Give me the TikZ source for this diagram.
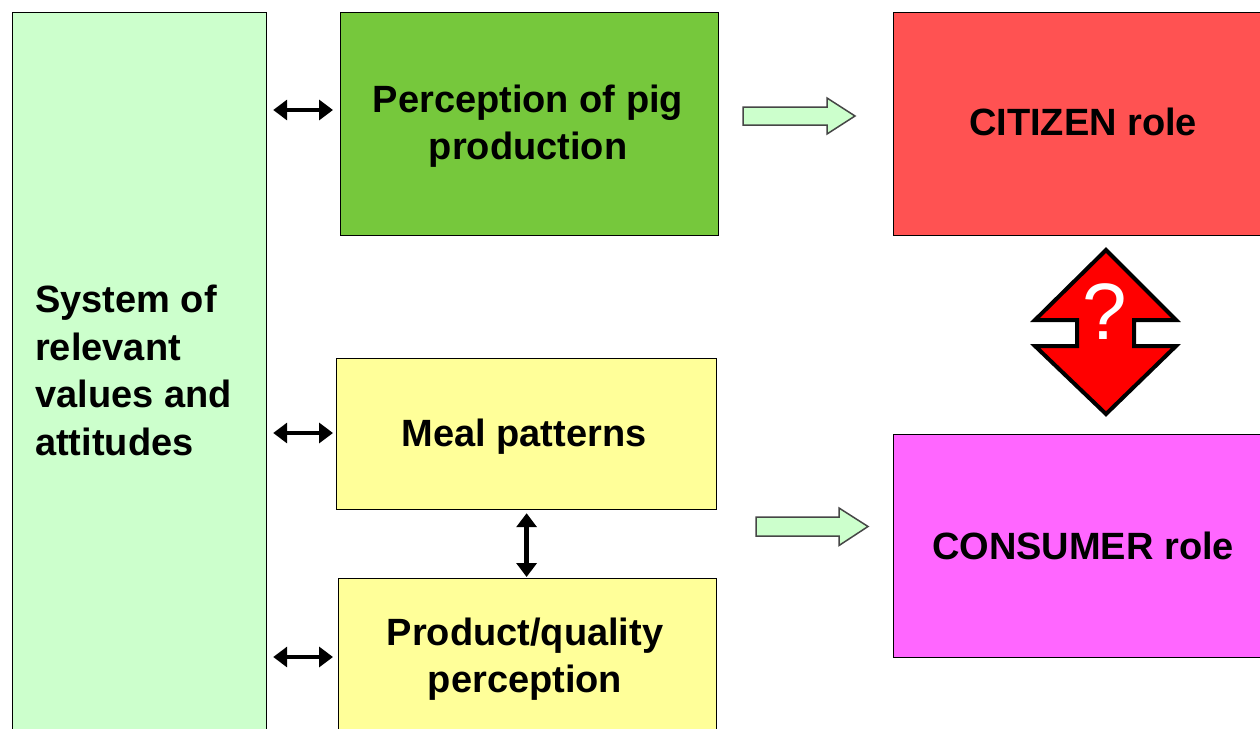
\documentclass[tikz,border=0pt]{standalone}
\usepackage{fontspec}
\setmainfont{Liberation Sans}
\usetikzlibrary{arrows.meta}
\definecolor{sysgreen}{RGB}{204,255,204}
\definecolor{ppgreen}{RGB}{118,200,60}
\definecolor{citred}{RGB}{255,82,82}
\definecolor{conpink}{RGB}{255,102,255}
\definecolor{paleyellow}{RGB}{255,255,153}
\definecolor{arrowedge}{RGB}{70,70,70}
\tikzset{
  box/.style={draw=black, line width=1.2pt, rectangle, inner sep=0pt, anchor=north west},
  lbl/.style={inner sep=0pt, align=center, font=\fontsize{38}{47}\selectfont\bfseries},
  dbl/.style={line width=4.5pt, {Triangle[length=14pt,width=20pt]}-{Triangle[length=14pt,width=20pt]}},
  blockarrow/.style={fill=sysgreen, draw=arrowedge, line width=1.5pt, line join=miter},
}
\begin{document}
\begin{tikzpicture}[x=1pt,y=-1pt]
\path[fill=white] (0,0) rectangle (1260,728);
\useasboundingbox (0,0) rectangle (1260,728);
\clip (0,0) rectangle (1260,728);

% boxes
\node[box, fill=sysgreen, minimum width=254pt, minimum height=760pt] (sys) at (12,12) {};
\node[lbl, anchor=west, align=left, font=\fontsize{38}{47.5}\selectfont\bfseries] (systxt) at (35,370.5)
  {System of\\relevant\\values and\\attitudes};

\node[box, fill=ppgreen, minimum width=378pt, minimum height=223pt] (pp) at (340,12) {};
\node[lbl] (pptxt) at (528,126) {Perception of pig\\production};

\node[box, fill=citred, minimum width=400pt, minimum height=223pt] (cit) at (893,12) {};
\node[lbl] (cittxt) at (1083,121.7) {CITIZEN role};

\node[box, fill=paleyellow, minimum width=380pt, minimum height=151pt] (meal) at (336,358) {};
\node[lbl] (mealtxt) at (524,436.5) {Meal patterns};

\node[box, fill=paleyellow, minimum width=378pt, minimum height=200pt] (prod) at (338,578) {};
\node[lbl] (prodtxt) at (525,659) {Product/quality\\perception};

\node[box, fill=conpink, minimum width=400pt, minimum height=223pt] (con) at (893,434) {};
\node[lbl] (contxt) at (1083,546) {CONSUMER role};

% double arrows
\draw[dbl, shorten <=6pt, shorten >=7pt] (sys.east |- 0,110) -- (pp.west |- 0,110);
\draw[dbl, shorten <=6pt, shorten >=3pt] (sys.east |- 0,433) -- (meal.west |- 0,433);
\draw[dbl, shorten <=6pt, shorten >=5pt] (sys.east |- 0,657) -- (prod.west |- 0,657);
\draw[dbl, shorten <=3pt, shorten >=1pt] (meal.south) -- (meal.south |- prod.north);

% block arrows
\draw[blockarrow] (743,107) -- (827,107) -- (827,98) -- (855,116) -- (827,134) -- (827,125) -- (743,125) -- cycle;
\draw[blockarrow] (756,517) -- (839,517) -- (839,508) -- (868,526.5) -- (839,545.5) -- (839,536) -- (756,536) -- cycle;

% red question diamond
\draw[fill=red, draw=black, line width=4pt, line join=miter]
  (1106,250) -- (1176,320) -- (1134,320) -- (1134,346) -- (1176,346) -- (1106,414)
  -- (1035,346) -- (1077,346) -- (1077,320) -- (1035,320) -- cycle;
\node[inner sep=0pt, text=white, font=\fontsize{80}{80}\selectfont] (q) at (1105,312) {?};
\end{tikzpicture}
\end{document}
